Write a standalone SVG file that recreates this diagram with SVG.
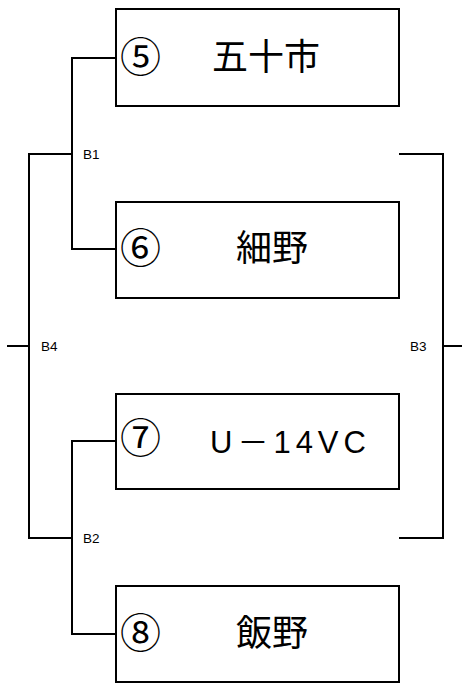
<svg xmlns="http://www.w3.org/2000/svg" width="462" height="684" viewBox="0 0 462 684">
<style>
.box{fill:#fff;stroke:#000;stroke-width:2}
.ln{fill:none;stroke:#000;stroke-width:2}
.num{font-family:"Noto Sans CJK JP","Noto Sans",sans-serif;font-size:41px;fill:#000}
.name{font-family:"Noto Sans CJK JP",sans-serif;font-size:36px;fill:#000}
.lat{font-family:"Liberation Sans","Noto Sans CJK JP",sans-serif;font-size:31px;fill:#000}
.lbl{font-family:"Liberation Sans",Arial,sans-serif;font-size:13.5px;fill:#000}
</style>
<rect width="462" height="684" fill="#fff"/>
<g id="connectors">
<polyline class="ln" points="116,58 72,58 72,249 116,249"/>
<polyline class="ln" points="116,441 72,441 72,634 116,634"/>
<polyline class="ln" points="72,154 29,154 29,538 72,538"/>
<line class="ln" x1="7" y1="346" x2="29" y2="346"/>
<polyline class="ln" points="399,154 443,154 443,538 399,538"/>
<line class="ln" x1="443" y1="346" x2="462" y2="346"/>
<text class="lbl" x="83" y="159">B1</text>
<text class="lbl" x="83" y="543">B2</text>
<text class="lbl" x="410" y="351">B3</text>
<text class="lbl" x="41" y="351">B4</text>
</g>
<g id="n5">
<rect class="box" x="116" y="9" width="283" height="97"/>
<text class="num" x="120" y="72">⑤</text>
<text class="name" x="212" y="70">五十市</text>
</g>
<g id="n6">
<rect class="box" x="116" y="202" width="283" height="96"/>
<text class="num" x="120" y="263">⑥</text>
<text class="name" x="236" y="261">細野</text>
</g>
<g id="n7">
<rect class="box" x="116" y="394" width="283" height="95"/>
<text class="num" x="120" y="453">⑦</text>
<text class="lat" x="210" y="453" letter-spacing="5">U－14VC</text>
</g>
<g id="n8">
<rect class="box" x="116" y="586" width="283" height="96"/>
<text class="num" x="120" y="648">⑧</text>
<text class="name" x="236" y="646">飯野</text>
</g>
</svg>
